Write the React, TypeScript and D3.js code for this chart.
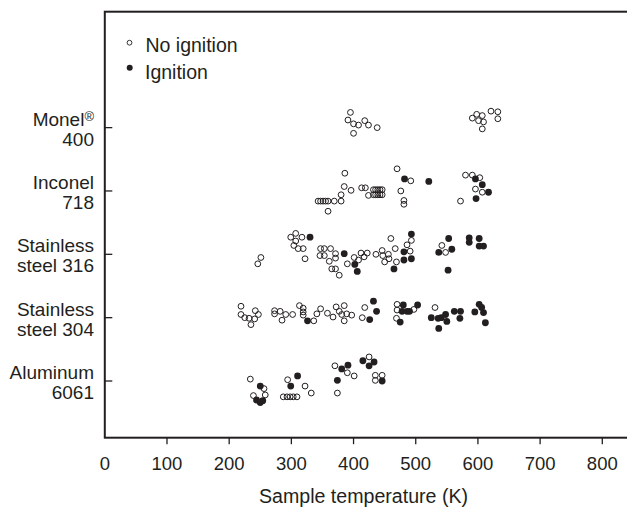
import React from 'react';
import { scaleLinear } from 'd3';

// rows from bottom to top
const materials = ['Aluminum 6061', 'Stainless steel 304', 'Stainless steel 316', 'Inconel 718', 'Monel 400'];
const materialLines = [
  ['Aluminum', '6061'],
  ['Stainless', 'steel 304'],
  ['Stainless', 'steel 316'],
  ['Inconel', '718'],
  ['Monel', '400'],
];
const xTicks = [0, 100, 200, 300, 400, 500, 600, 700, 800];

// [temperature K, vertical jitter in row units]
const aluminumNoIgn = [
  [234, 0.03], [256, -0.12], [258, -0.22], [239, -0.23], [294, 0.02], [287, -0.25], [293, -0.25],
  [298, -0.25], [303, -0.25], [309, -0.25], [322, -0.08], [332, -0.19], [370, 0.24], [390, 0.13],
  [401, 0.08], [374, -0.19], [425, 0.38], [435, 0.09], [446, 0.09], [435, 0.01],
];
const aluminumIgn = [
  [250, -0.08], [244, -0.3], [250, -0.34], [254, -0.31], [310, 0.08], [299, -0.08], [381, 0.19],
  [391, 0.25], [374, 0.01], [415, 0.32], [425, 0.24], [433, 0.3], [446, 0],
];
const ss304NoIgn = [
  [219, 0.18], [219, 0.05], [225, 0], [232, -0.01], [242, 0.11], [247, 0.05], [241, -0.02], [235, -0.11],
  [273, 0.11], [273, 0.06], [282, 0.1], [285, -0.04], [291, 0.05], [302, 0.05], [313, 0.19], [319, 0.15],
  [319, 0.09], [319, 0.04], [336, -0.05], [341, 0.06], [347, 0.14], [358, 0.07], [367, 0.01], [372, 0.17],
  [377, 0.1], [381, 0.05], [385, 0.19], [389, 0.06], [397, 0.04], [385, -0.05], [414, 0], [418, 0.16],
  [470, 0.21], [470, 0.12], [469, -0.01], [497, 0.13], [531, 0.16],
];
const ss304Ign = [
  [326, -0.05], [432, 0.26], [437, 0.1], [426, -0.03], [480, 0.2], [478, 0.1], [486, 0.1], [490, 0.1],
  [475, -0.07], [503, 0.2], [525, 0], [536, -0.01], [541, 0], [548, 0.05], [550, -0.06], [537, -0.17],
  [562, 0.1], [572, 0.1], [571, -0.01], [602, 0.21], [606, 0.16], [595, 0.09], [609, 0.08], [612, -0.08],
];
const ss316NoIgn = [
  [251, -0.05], [246, -0.15], [299, 0.27], [307, 0.33], [317, 0.27], [307, 0.21], [304, 0.14], [311, 0.09],
  [319, 0.09], [322, -0.07], [347, 0.09], [353, 0.09], [363, 0.09], [346, -0.02], [353, -0.02], [371, 0.01],
  [371, -0.06], [361, -0.11], [365, -0.23], [371, -0.23], [377, -0.33], [390, -0.15], [401, -0.05],
  [408, -0.09], [412, 0.02], [417, -0.04], [422, 0.02], [436, 0], [446, 0.06], [447, -0.02], [456, 0],
  [457, -0.07], [450, -0.12], [467, 0.09], [460, 0.25], [469, -0.12], [486, 0.15], [493, 0.22], [491, 0.05],
  [542, 0.14], [548, 0.03],
];
const ss316Ign = [
  [330, 0.27], [385, 0.01], [402, -0.16], [406, -0.27], [465, -0.23], [481, 0.04], [481, -0.09], [493, 0.32],
  [493, -0.07], [553, 0.25], [537, 0.03], [558, 0.08], [552, -0.25], [586, 0.26], [586, 0.19], [602, 0.25],
  [602, 0.13], [609, 0.13],
];
const inconelNoIgn = [
  [386, 0.28], [470, 0.35], [492, 0.16], [385, 0.07], [396, 0.01], [413, 0.05], [419, 0.05], [424, -0.07],
  [432, 0.02], [435.5, 0.02], [439, 0.02], [442.5, 0.02], [446, 0.02],
  [432, -0.06], [435.5, -0.06], [439, -0.06], [442.5, -0.06], [446, -0.06],
  [380, -0.06], [369, -0.16], [380, -0.16], [343, -0.16], [347, -0.16], [351, -0.16], [355, -0.16],
  [359, -0.16], [359, -0.32], [476, 0], [481, -0.15], [481, -0.21], [572, -0.16], [580, 0.25], [591, 0.25],
  [603, 0.21], [596, 0.03], [607, -0.02],
];
const inconelIgn = [[482, 0.19], [521, 0.15], [596, 0.19], [607, 0.1], [617, -0.02], [597, -0.12]];
const monelNoIgn = [
  [395, 0.24], [391, 0.12], [400, 0.06], [408, 0.04], [418, 0.11], [424, 0.04], [438, 0], [400, -0.09],
  [591, 0.15], [598, 0.21], [607, 0.19], [601, 0.11], [609, 0.09], [607, -0.02], [621, 0.26], [632, 0.25],
  [632, 0.14],
];
const monelIgn: number[][] = [];

const noIgnition = [aluminumNoIgn, ss304NoIgn, ss316NoIgn, inconelNoIgn, monelNoIgn];
const ignition = [aluminumIgn, ss304Ign, ss316Ign, inconelIgn, monelIgn];

const W = 627;
const H = 508;
const ink = '#231f20';
const font = '"Liberation Sans", Arial, Helvetica, sans-serif';

const x = scaleLinear().domain([0, 800]).range([104.8, 602.3]);
const y = scaleLinear().domain([0.105, 6.83]).range([437.7, 11.7]);

export default function App() {
  const left = x(0);
  const right = x(850);
  const top = y(6.83);
  const bottom = y(0.105);

  return (
    <svg
      width={W}
      height={H}
      style={{ position: 'absolute', left: 0, top: 0, background: '#fff' }}
      fontFamily={font}
    >
      {/* frame */}
      <rect x={left} y={top} width={right - left} height={bottom - top} fill="none" stroke={ink} strokeWidth={2} />

      {/* x axis */}
      {xTicks.map((t) => (
        <g key={t}>
          {t > 0 && <line x1={x(t)} x2={x(t)} y1={bottom} y2={bottom + 6.5} stroke={ink} strokeWidth={1.3} />}
          <text x={x(t)} y={470} textAnchor="middle" fontSize={18.5} fill={ink}>
            {t}
          </text>
        </g>
      ))}
      <text x={363.5} y={503} textAnchor="middle" fontSize={19.6} fill={ink}>
        Sample temperature (K)
      </text>

      {/* y axis */}
      {materials.map((m, i) => {
        const yy = y(i + 1);
        const [l1, l2] = materialLines[i];
        return (
          <g key={m}>
            <line x1={left} x2={left + 7.5} y1={yy} y2={yy} stroke={ink} strokeWidth={1.3} />
            <text x={94} y={yy - 2} textAnchor="end" fontSize={19} fill={ink}>
              {l1}
              {i === 4 && (
                <tspan fontSize={13} dy={-5}>
                  ®
                </tspan>
              )}
            </text>
            <text x={94} y={yy + 18} textAnchor="end" fontSize={19} fill={ink}>
              {l2}
            </text>
          </g>
        );
      })}

      {/* points */}
      {noIgnition.map((pts, i) =>
        pts.map((p, j) => (
          <circle
            key={`n${i}-${j}`}
            cx={x(p[0])}
            cy={y(i + 1 + p[1])}
            r={2.9}
            fill="none"
            stroke={ink}
            strokeWidth={1}
          />
        ))
      )}
      {ignition.map((pts, i) =>
        pts.map((p, j) => (
          <circle key={`f${i}-${j}`} cx={x(p[0])} cy={y(i + 1 + p[1])} r={3.4} fill={ink} />
        ))
      )}

      {/* legend */}
      <circle cx={129.5} cy={42.7} r={2.4} fill="none" stroke={ink} strokeWidth={0.9} />
      <text x={145.5} y={52.3} fontSize={19.5} fill={ink}>
        No ignition
      </text>
      <circle cx={129.7} cy={67.7} r={3} fill={ink} />
      <text x={145} y={78.5} fontSize={19.5} fill={ink}>
        Ignition
      </text>
    </svg>
  );
}
